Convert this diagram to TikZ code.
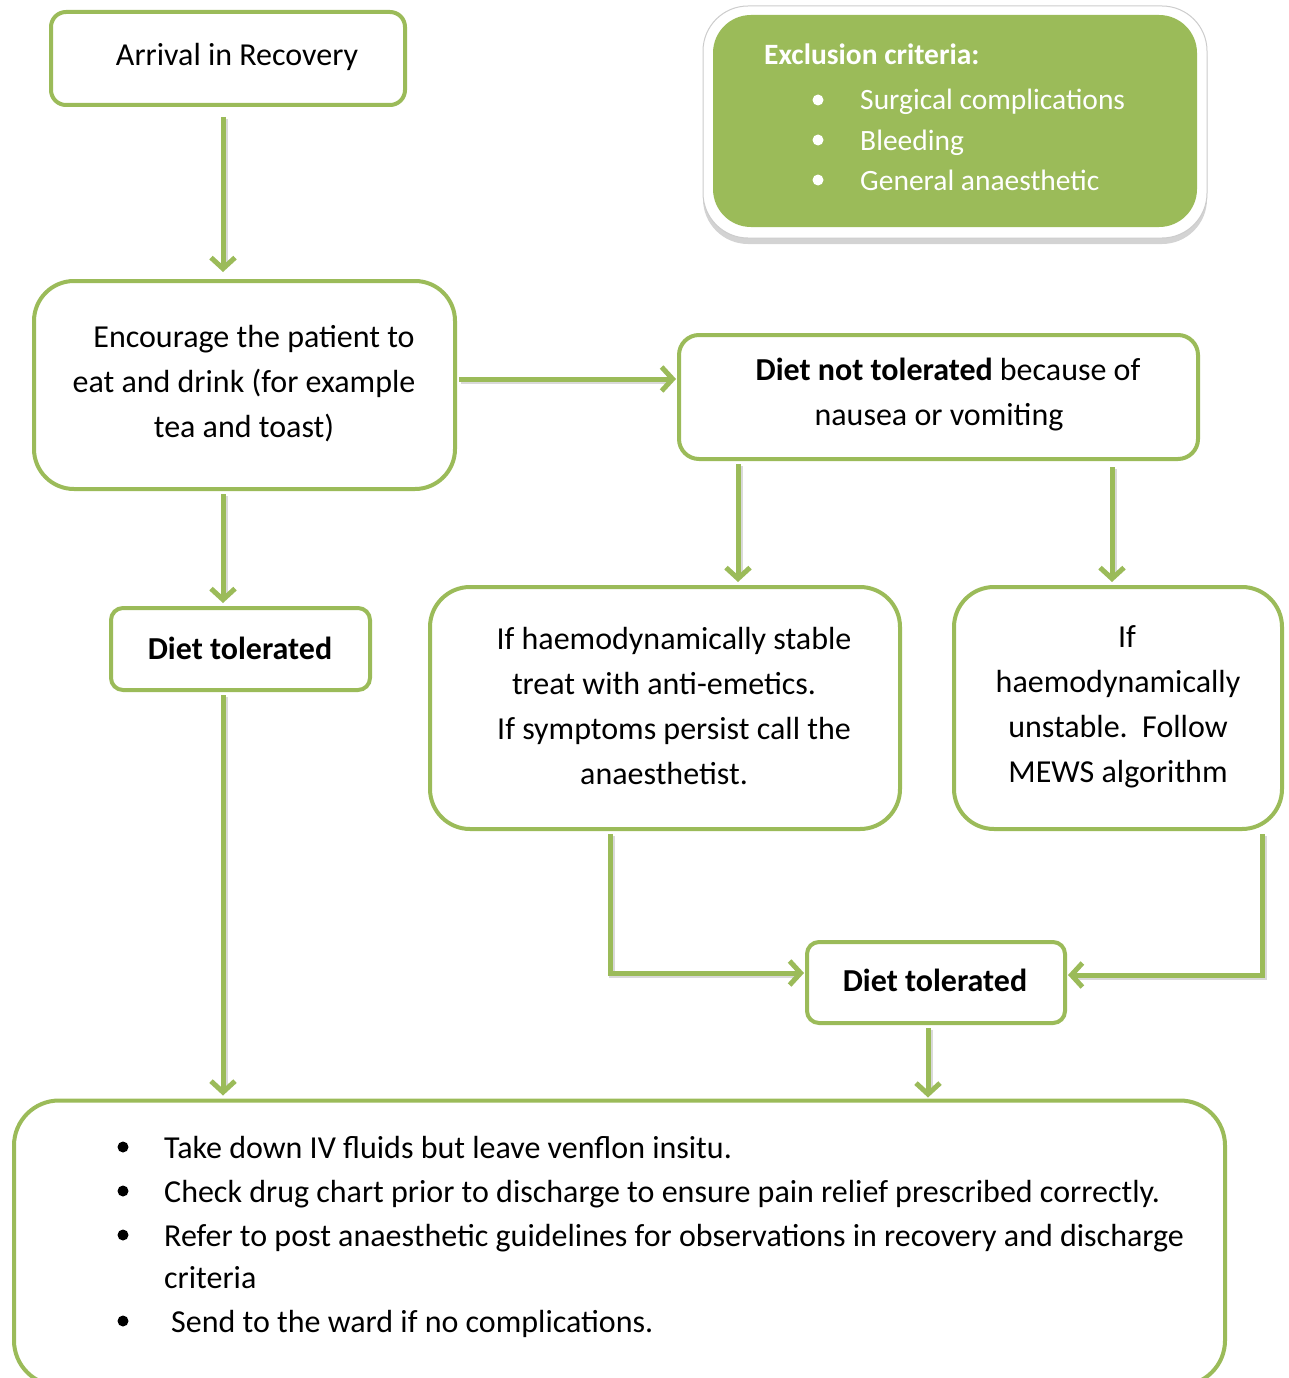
\documentclass[tikz,border=0pt]{standalone}
\usepackage{fontspec}
\setmainfont{Carlito}
\usetikzlibrary{arrows.meta,shadows,calc}
\definecolor{lg}{HTML}{9BBB59}
\begin{document}
\begin{tikzpicture}[x=1pt,y=-1pt,
  box/.style={draw=lg, line width=4pt, fill=white, rounded corners=#1, inner sep=0pt},
  box/.default=15pt,
  flow/.style={draw=lg, line width=5pt, -{Straight Barb[length=11pt,width=24pt]}},
  shade/.style={draw=black!15, line width=6pt, transform canvas={shift={(2pt,-2pt)}}},
  txt/.style={font=\fontsize{32}{45}\selectfont, align=center, inner sep=0pt},
  ltxt/.style={font=\fontsize{32}{45}\selectfont, anchor=base west, inner sep=0pt},
  wtxt/.style={font=\fontsize{29.5}{40}\selectfont, anchor=base west, inner sep=0pt, text=white}]
\useasboundingbox (0,0) rectangle (1289,1378);

% boxes
\node[box=15pt, minimum width=354pt, minimum height=93pt] (arr) at (228,58.5) {};
\node[txt] at (237,57) {Arrival in Recovery};

\node[draw=black!20, line width=1pt, fill=white, rounded corners=45pt,
      minimum width=504pt, minimum height=232pt,
      drop shadow={shadow xshift=0pt, shadow yshift=-6pt, opacity=0.35}] (exout) at (955,122) {};
\node[fill=lg, rounded corners=38pt, minimum width=484pt, minimum height=212pt] (excl) at (955,121) {};
\node[wtxt, font=\fontsize{29.5}{40}\selectfont\bfseries] at (764,65) {Exclusion criteria:};
\foreach \yy/\tt in {100/Surgical complications,140/Bleeding,180/General anaesthetic}{
  \fill[white] (818,\yy) circle (5.5pt);
  \node[wtxt] at (860,\yy+10) {\tt};
}

\node[box=40pt, minimum width=421pt, minimum height=208pt] (enc) at (244.5,385) {};
\node[txt] at (244,383.5) {\hspace*{20pt}Encourage the patient to\\eat and drink (for example\\tea and toast)};

\node[box=20pt, minimum width=519pt, minimum height=124pt] (nt) at (938.5,397) {};
\node[txt] at (948,395) {\textbf{Diet not tolerated} because of\\nausea or vomiting\hspace*{18pt}\mbox{}};

\node[box=12pt, minimum width=259pt, minimum height=82pt] (dtl) at (240.5,649) {};
\node[txt, font=\fontsize{32}{45}\selectfont\bfseries] at (240,648) {Diet tolerated};

\node[box=40pt, minimum width=470pt, minimum height=242pt] (st) at (665,708) {};
\node[txt] at (674,706.5) {If haemodynamically stable\\treat with anti-emetics.\hspace*{20pt}\mbox{}\\If symptoms persist call the\\anaesthetist.\hspace*{20pt}\mbox{}};

\node[box=40pt, minimum width=328pt, minimum height=242pt] (un) at (1118,708) {};
\node[txt] at (1118,706.5) {\hspace*{18pt}If\\haemodynamically\\unstable.\ \ Follow\\MEWS algorithm};

\node[box=12pt, minimum width=258pt, minimum height=81pt] (dtr) at (936,982.5) {};
\node[txt, font=\fontsize{32}{45}\selectfont\bfseries] at (935,980) {Diet tolerated};

\node[box=45pt, minimum width=1211pt, minimum height=285pt] (bot) at (619.5,1243) {};
\foreach \yy/\xx/\tt in {1147/164/Take down IV fluids but leave venflon insitu.,
  1191/164/Check drug chart prior to discharge to ensure pain relief prescribed correctly.,
  1235/164/Refer to post anaesthetic guidelines for observations in recovery and discharge,
  1321/171/Send to the ward if no complications.}{
  \fill[black] (123,\yy) circle (5.5pt);
  \node[ltxt] at (\xx,\yy+11) {\tt};
}
\node[ltxt] at (164,1288) {criteria};

% connectors (shadow then green)
\draw[shade] ($(223,0 |- arr.south)+(0,10)$) -- ($(223,0 |- enc.north)+(0,-14)$);
\draw[flow] ($(223,0 |- arr.south)+(0,10)$) -- ($(223,0 |- enc.north)+(0,-7)$);

\draw[shade] ($(223,0 |- enc.south)+(0,3)$) -- ($(223,0 |- dtl.north)+(0,-10)$);
\draw[flow] ($(223,0 |- enc.south)+(0,3)$) -- ($(223,0 |- dtl.north)+(0,-3)$);

\draw[shade] ($(enc.east |- 0,379)+(2,0)$) -- ($(nt.west |- 0,379)+(-8,0)$);
\draw[flow] ($(enc.east |- 0,379)+(2,0)$) -- ($(nt.west |- 0,379)+(-1,0)$);

\draw[shade] ($(738,0 |- nt.south)+(0,3)$) -- ($(738,0 |- st.north)+(0,-10)$);
\draw[flow] ($(738,0 |- nt.south)+(0,3)$) -- ($(738,0 |- st.north)+(0,-3)$);

\draw[shade] ($(1112,0 |- nt.south)+(0,6)$) -- ($(1112,0 |- un.north)+(0,-10)$);
\draw[flow] ($(1112,0 |- nt.south)+(0,6)$) -- ($(1112,0 |- un.north)+(0,-3)$);

\draw[shade] ($(223,0 |- dtl.south)+(0,3)$) -- ($(223,0 |- bot.north)+(0,-10)$);
\draw[flow] ($(223,0 |- dtl.south)+(0,3)$) -- ($(223,0 |- bot.north)+(0,-3)$);

\draw[shade] ($(610,0 |- st.south)+(0,3)$) |- ($(dtr.west)+(-8,-9.5)$);
\draw[flow] ($(610,0 |- st.south)+(0,3)$) |- ($(dtr.west)+(-1,-9.5)$);

\draw[shade] ($(1262,0 |- un.south)+(0,3)$) |- ($(dtr.east)+(8,-7.5)$);
\draw[flow] ($(1262,0 |- un.south)+(0,3)$) |- ($(dtr.east)+(1,-7.5)$);

\draw[shade] ($(928,0 |- dtr.south)+(0,3)$) -- ($(928,0 |- bot.north)+(0,-10)$);
\draw[flow] ($(928,0 |- dtr.south)+(0,3)$) -- ($(928,0 |- bot.north)+(0,-1)$);
\end{tikzpicture}
\end{document}
